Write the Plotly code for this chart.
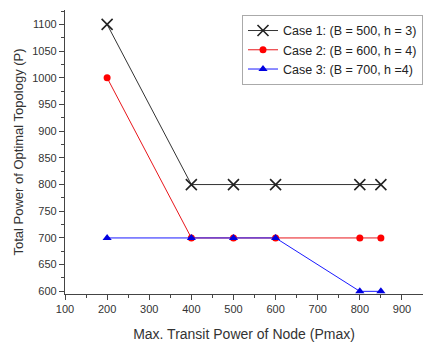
import plotly.graph_objects as go

pmax = [200, 400, 500, 600, 800, 850]
case1 = [1100, 800, 800, 800, 800, 800]
case2 = [1000, 700, 700, 700, 700, 700]
case3 = [700, 700, 700, 700, 600, 600]
names = ["Case 1: (B = 500, h = 3)", "Case 2: (B = 600, h = 4)", "Case 3: (B = 700, h =4)"]

FONT = "Arial, Liberation Sans, sans-serif"

fig = go.Figure()
fig.add_trace(go.Scatter(x=pmax, y=case1, name=names[0], mode="lines+markers",
                         line=dict(color="#333333", width=1),
                         marker=dict(symbol="x-thin", size=11, line=dict(color="#222222", width=1.6))))
fig.add_trace(go.Scatter(x=pmax, y=case2, name=names[1], mode="lines+markers",
                         line=dict(color="#e8161b", width=1),
                         marker=dict(symbol="circle", size=7, color="#ff0000")))
fig.add_trace(go.Scatter(x=pmax, y=case3, name=names[2], mode="lines+markers",
                         line=dict(color="#1a1aff", width=1),
                         marker=dict(symbol="triangle-up", size=8, color="#0000e0")))

axis_common = dict(showline=True, linecolor="#444444", linewidth=1.2, ticks="outside",
                   ticklen=5, tickcolor="#444444", showgrid=False, zeroline=False,
                   tickfont=dict(family=FONT, size=11, color="#333333"))
fig.update_xaxes(range=[100, 950], tickvals=[100, 200, 300, 400, 500, 600, 700, 800, 900],
                 minor=dict(ticks="outside", ticklen=3, tickcolor="#444444", dtick=50),
                 title=dict(text="Max. Transit Power of Node (Pmax)", standoff=17,
                            font=dict(family=FONT, size=14, color="#333333")),
                 **axis_common)
fig.update_yaxes(range=[595, 1127], tickvals=[600, 650, 700, 750, 800, 850, 900, 950, 1000, 1050, 1100],
                 minor=dict(ticks="outside", ticklen=3, tickcolor="#444444", dtick=25),
                 title=dict(text="Total Power of Optimal Topology (P)", standoff=5,
                            font=dict(family=FONT, size=13, color="#333333")),
                 **axis_common)
fig.update_layout(width=423, height=342, plot_bgcolor="white", paper_bgcolor="white",
                  margin=dict(l=65, r=0, t=10, b=42),
                  legend=dict(x=1, y=1 - (15 - 10) / 290, xanchor="right", yanchor="top",
                              bordercolor="#aaaaaa", borderwidth=1, bgcolor="white",
                              font=dict(family=FONT, size=12.5, color="#222222"),
                              tracegroupgap=0))
fig.write_html("out.html")
